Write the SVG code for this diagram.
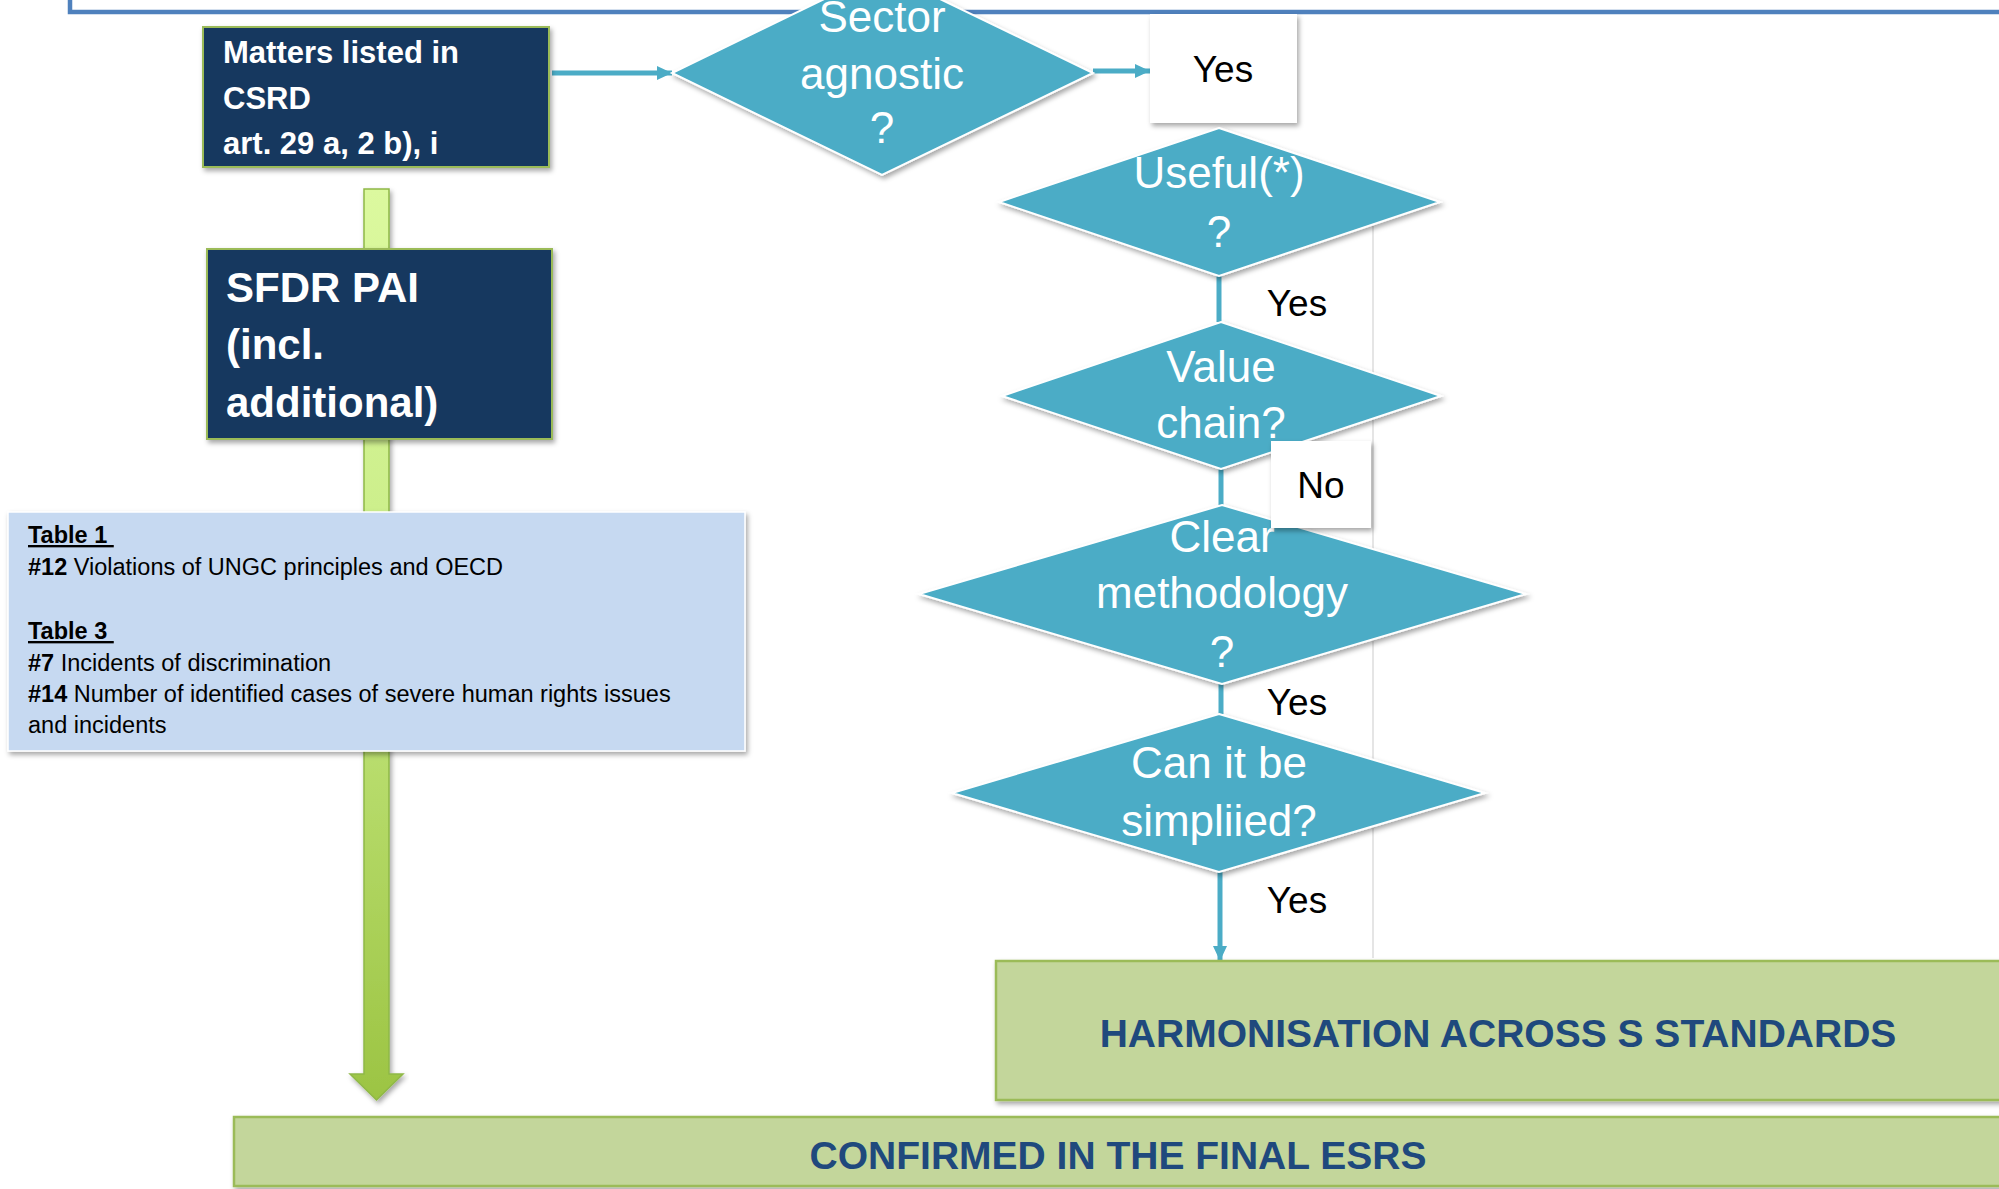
<svg xmlns="http://www.w3.org/2000/svg" width="1999" height="1189" viewBox="0 0 1999 1189">
<style>
.dark{fill:#17375e;stroke:#9bbb59;stroke-width:2}
.dia{fill:#4bacc6;stroke:#ffffff;stroke-width:2}
.lbl{fill:#ffffff;stroke:none}
.wt{font-family:"Liberation Sans",Arial,sans-serif;fill:#ffffff;font-weight:bold}
.dt{font-family:"Liberation Sans",Arial,sans-serif;fill:#ffffff;font-size:44px;text-anchor:middle}
.yn{font-family:"Liberation Sans",Arial,sans-serif;fill:#000000;font-size:37px;text-anchor:middle}
.tb{font-family:"Liberation Sans",Arial,sans-serif;fill:#000000;font-size:23.5px}
.gr{fill:#c3d69b;stroke:#9bbb59;stroke-width:2.5}
.gt{font-family:"Liberation Sans",Arial,sans-serif;fill:#1f497d;font-weight:bold;font-size:39px;text-anchor:middle}
.con{stroke:#4bacc6;stroke-width:5;fill:none}
</style>
<defs>
<filter id="sh" x="-10%" y="-10%" width="120%" height="130%">
<feDropShadow dx="2" dy="3" stdDeviation="2.5" flood-color="#000000" flood-opacity="0.35"/>
</filter>
<linearGradient id="ga" gradientUnits="userSpaceOnUse" x1="0" y1="189" x2="0" y2="1100">
<stop offset="0" stop-color="#dcf99f"/>
<stop offset="0.35" stop-color="#cdef8c"/>
<stop offset="1" stop-color="#9cc443"/>
</linearGradient>
<marker id="ah" markerUnits="userSpaceOnUse" markerWidth="16" markerHeight="14" refX="15" refY="7" orient="auto">
<path d="M0,0 L15,7 L0,14 z" fill="#4bacc6"/>
</marker>
</defs>
<rect x="0" y="0" width="1999" height="1189" fill="#ffffff"/>

<g id="frame">
<path d="M70,-10 V12 H2010" fill="none" stroke="#4f81bd" stroke-width="4.5"/>
</g>

<g id="label-panel-edge">
<line x1="1373" y1="226" x2="1373" y2="958" stroke="#dcdcdc" stroke-width="1.5"/>
</g>

<g id="green-arrow">
<path d="M364,189 H389 V1074 H403 L376.5,1100 L350,1074 H364 Z" fill="url(#ga)" stroke="#8fb847" stroke-width="1.5" filter="url(#sh)"/>
</g>

<g id="connectors">
<line class="con" x1="552" y1="73" x2="672" y2="73" marker-end="url(#ah)"/>
<line class="con" x1="1093" y1="71" x2="1150" y2="71" marker-end="url(#ah)"/>
<line class="con" x1="1219" y1="276" x2="1219" y2="322"/>
<line class="con" x1="1221" y1="469" x2="1221" y2="505"/>
<line class="con" x1="1221" y1="684" x2="1221" y2="714"/>
<line class="con" x1="1220" y1="872" x2="1220" y2="961" marker-end="url(#ah)"/>
</g>

<g id="matters">
<rect class="dark" x="203" y="27" width="346" height="140" filter="url(#sh)"/>
<text class="wt" font-size="31" x="223" y="63">Matters listed in</text>
<text class="wt" font-size="31" x="223" y="109">CSRD</text>
<text class="wt" font-size="31" x="223" y="154">art. 29 a, 2 b), i</text>
</g>

<g id="sfdr">
<rect class="dark" x="207" y="249" width="345" height="190" filter="url(#sh)"/>
<text class="wt" font-size="42" x="226" y="302">SFDR PAI</text>
<text class="wt" font-size="42" x="226" y="359">(incl.</text>
<text class="wt" font-size="42" x="226" y="417">additional)</text>
</g>

<g id="tables">
<rect x="8" y="512" width="737" height="239" fill="#c6d9f1" stroke="#ffffff" stroke-width="1.5" filter="url(#sh)"/>
<text class="tb" x="28" y="543" font-weight="bold" text-decoration="underline">Table 1&#160;</text>
<text class="tb" x="28" y="575"><tspan font-weight="bold">#12</tspan> Violations of UNGC principles and OECD</text>
<text class="tb" x="28" y="639" font-weight="bold" text-decoration="underline">Table 3&#160;</text>
<text class="tb" x="28" y="671"><tspan font-weight="bold">#7</tspan> Incidents of discrimination</text>
<text class="tb" x="28" y="702"><tspan font-weight="bold">#14</tspan> Number of identified cases of severe human rights issues</text>
<text class="tb" x="28" y="733">and incidents</text>
</g>

<g id="sector">
<polygon class="dia" points="882,-29 1093,73 882,175 672,73" filter="url(#sh)"/>
<text class="dt" x="882" y="32">Sector</text>
<text class="dt" x="882" y="89">agnostic</text>
<text class="dt" x="882" y="143">?</text>
</g>

<g id="yes-box">
<rect class="lbl" x="1150" y="14" width="147" height="109" filter="url(#sh)"/>
<text class="yn" x="1223" y="82">Yes</text>
</g>

<g id="useful">
<polygon class="dia" points="1219,128 1440,202 1219,276 999,202" filter="url(#sh)"/>
<text class="dt" x="1219" y="188">Useful(*)</text>
<text class="dt" x="1219" y="247">?</text>
</g>

<g id="value-chain">
<polygon class="dia" points="1221,322 1441,396 1221,469 1002,396" filter="url(#sh)"/>
<text class="dt" x="1221" y="382">Value</text>
<text class="dt" x="1221" y="438">chain?</text>
</g>

<g id="clear-methodology">
<polygon class="dia" points="1222,505 1526,594 1222,684 919,594" filter="url(#sh)"/>
<text class="dt" x="1222" y="552">Clear</text>
<text class="dt" x="1222" y="608">methodology</text>
<text class="dt" x="1222" y="667">?</text>
</g>

<g id="no-box">
<rect class="lbl" x="1271" y="441" width="100" height="87" filter="url(#sh)"/>
<text class="yn" x="1321" y="498">No</text>
</g>

<g id="simplified">
<polygon class="dia" points="1219,714 1485,793 1219,872 952,793" filter="url(#sh)"/>
<text class="dt" x="1219" y="778">Can it be</text>
<text class="dt" x="1219" y="836">simpliied?</text>
</g>

<g id="yes-labels">
<text class="yn" x="1297" y="316">Yes</text>
<text class="yn" x="1297" y="715">Yes</text>
<text class="yn" x="1297" y="913">Yes</text>
</g>

<g id="harmonisation">
<rect class="gr" x="996" y="961" width="1020" height="139" filter="url(#sh)"/>
<text class="gt" x="1498" y="1047">HARMONISATION ACROSS S STANDARDS</text>
</g>

<g id="confirmed">
<rect class="gr" x="234" y="1117" width="1790" height="69" filter="url(#sh)"/>
<text class="gt" x="1118" y="1169">CONFIRMED IN THE FINAL ESRS</text>
</g>
</svg>
